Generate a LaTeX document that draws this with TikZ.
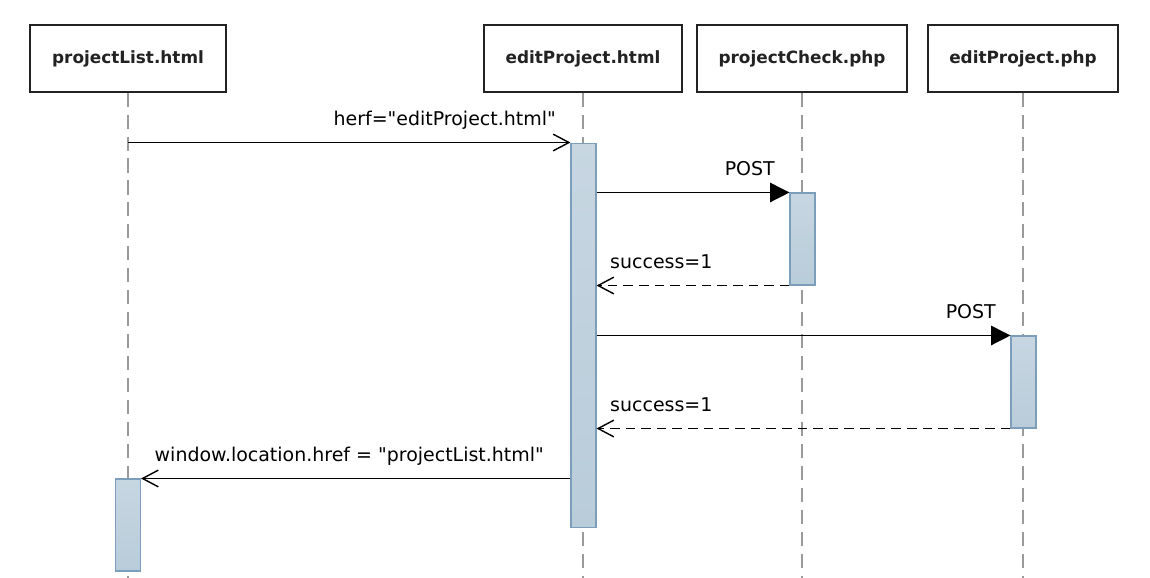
\documentclass[tikz,border=0pt]{standalone}
\usepackage{fontspec}
\setmainfont{DejaVu Sans}[Ligatures=TeXOff]
\usepackage{tikz}
\usetikzlibrary{arrows.meta}
\definecolor{BarBlue}{HTML}{B9CCDA}
\definecolor{BarEdge}{HTML}{7C9EBB}
\definecolor{LineGray}{HTML}{9A9A9A}
\definecolor{InkDark}{HTML}{222222}
\tikzset{
  lifebox/.style={draw=InkDark, line width=0.7pt, fill=white, minimum height=1.34cm, inner sep=0pt,
    font=\fontsize{9.6}{11}\selectfont\bfseries, text=InkDark},
  lifeline/.style={LineGray, line width=0.7pt, dash pattern=on 8pt off 4.5pt},
  actbar/.style={draw=BarEdge, line width=0.6pt, top color=BarBlue!80, bottom color=BarBlue,
    minimum width=0.5cm, inner sep=0pt},
  link/.style={black, line width=0.8pt, -{Straight Barb[length=9pt, width=9.5pt]}},
  call/.style={black, line width=0.8pt, -{Triangle[length=11pt, width=11pt]}},
  reply/.style={link, dash pattern=on 5.5pt off 3.4pt},
  msglabel/.style={font=\fontsize{10.8}{13}\selectfont, inner sep=0pt, pos=1}
}

\begin{document}
\begin{tikzpicture}[x=0.02cm, y=-0.02cm]
  \useasboundingbox (0,0) rectangle (1150,578);
  \coordinate (bottom) at (0,578);
  % heads and life lines
  \foreach \nm/\xx/\bw/\txt in {pList/128/3.92/projectList.html, eHtml/583/3.96/editProject.html,
      pCheck/802/4.2/projectCheck.php, ePhp/1023/3.8/editProject.php}{
    \node[lifebox, minimum width=\bw cm] (\nm) at (\xx,58.5) {\txt};
    \draw[lifeline] (\nm.south) -- (\nm.south |- bottom);
  }
  % activations
  \node[actbar, minimum height=7.7cm] (bEdit) at (583.5,335.5) {};
  \node[actbar, minimum height=1.84cm] (bCheck) at (802.5,239) {};
  \node[actbar, minimum height=1.84cm] (bPhp) at (1023.5,382) {};
  \node[actbar, minimum height=1.84cm] (bList) at (128,525) {};
  % messages
  \draw[link] (pList.south |- bEdit.north) -- (bEdit.north west)
    node[msglabel, anchor=base east, xshift=-0.28cm, yshift=0.34cm] {herf="editProject.html"};
  \draw[call] (bEdit.east |- bCheck.north) -- (bCheck.north west)
    node[msglabel, anchor=base east, xshift=-0.28cm, yshift=0.34cm] {POST};
  \draw[reply] (bCheck.south west) -- (bEdit.east |- bCheck.south)
    node[msglabel, anchor=base west, xshift=0.26cm, yshift=0.34cm] {success=1};
  \draw[call] (bEdit.east |- bPhp.north) -- (bPhp.north west)
    node[msglabel, anchor=base east, xshift=-0.28cm, yshift=0.34cm] {POST};
  \draw[reply] (bPhp.south west) -- (bEdit.east |- bPhp.south)
    node[msglabel, anchor=base west, xshift=0.26cm, yshift=0.34cm] {success=1};
  \draw[link] (bEdit.west |- bList.north) -- (bList.north east)
    node[msglabel, anchor=base west, xshift=0.26cm, yshift=0.34cm] {window.location.href = "projectList.html"};
\end{tikzpicture}
\end{document}
